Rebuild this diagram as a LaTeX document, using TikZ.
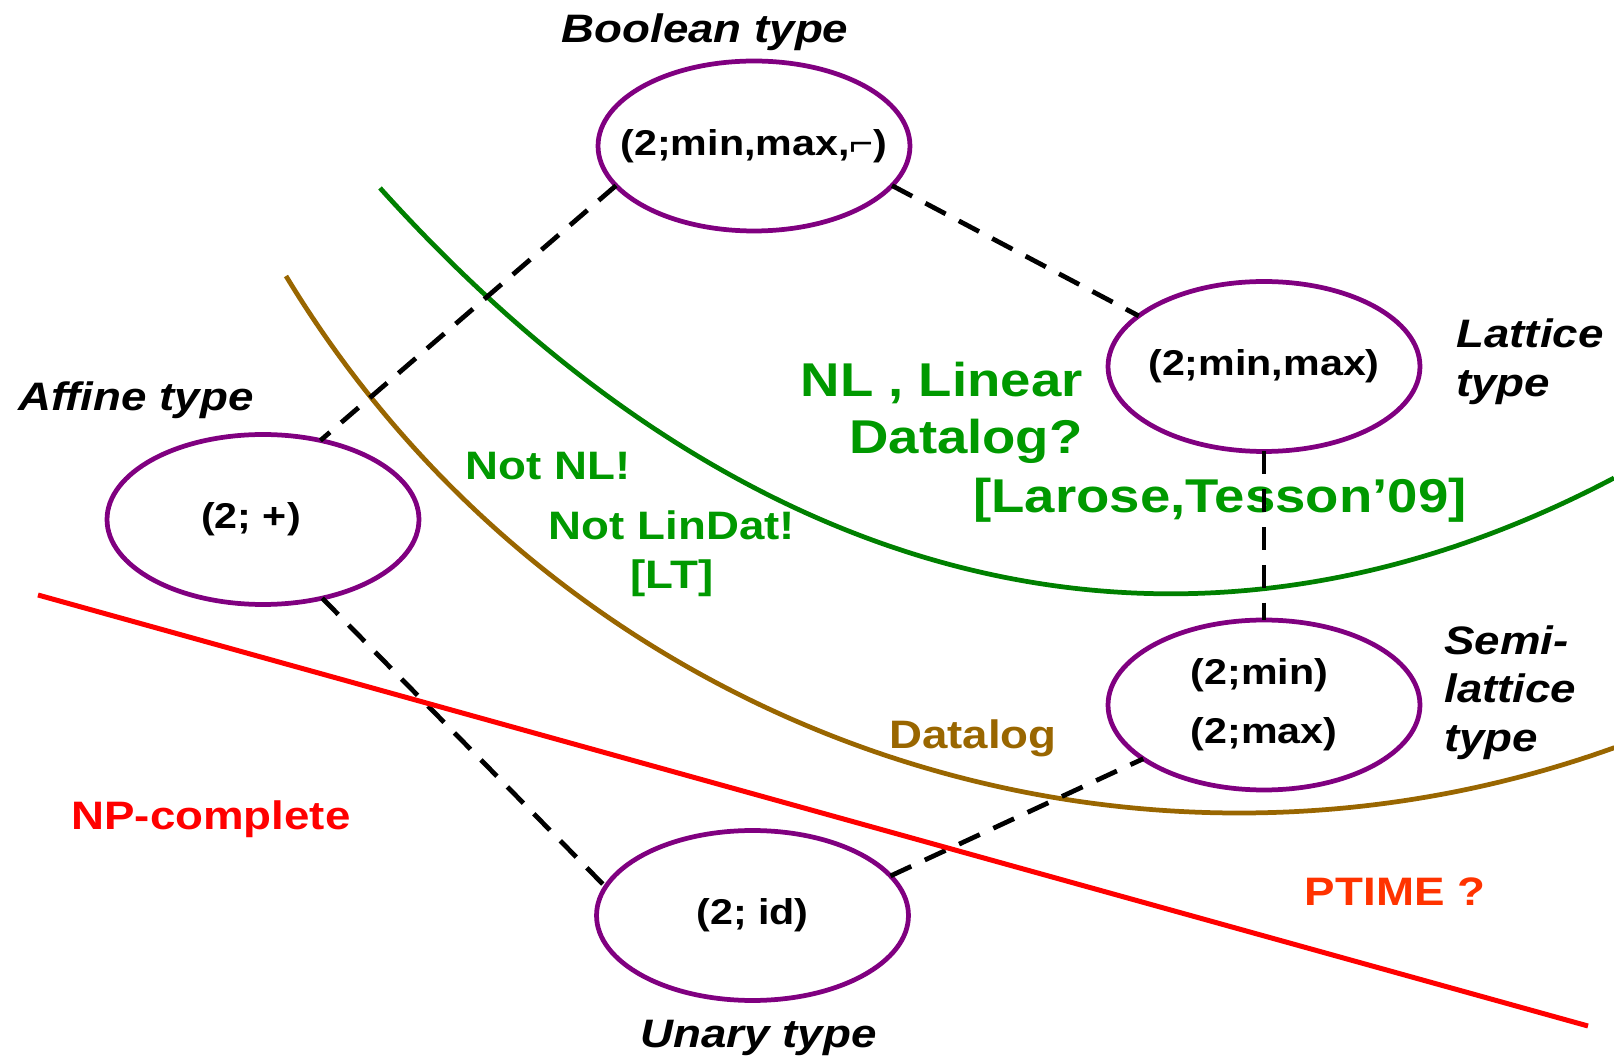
\documentclass[tikz,border=0pt]{standalone}
\usepackage{fontspec}
\setmainfont{Liberation Sans}[FakeStretch=1.15]
\usepackage{tikz}
\usetikzlibrary{shapes.geometric, positioning}
\definecolor{optype}{HTML}{800080}
\definecolor{nlgreen}{HTML}{008000}
\definecolor{nltext}{HTML}{009900}
\definecolor{dlbrown}{HTML}{996600}
\definecolor{ptime}{HTML}{FF3300}
\tikzset{clone/.style={ellipse, draw=optype, line width=0.095cm,
    minimum width=6.24cm, minimum height=3.4cm, inner sep=0pt, outer sep=0pt}}
\tikzset{cname/.style={font=\fontsize{20.4}{33.5}\selectfont\bfseries, inner sep=0pt, align=left}}
\tikzset{ctype/.style={font=\fontsize{22.6}{27.8}\selectfont\bfseries\itshape, inner sep=0pt, align=left}}
\tikzset{claim/.style={font=\fontsize{22.6}{27.8}\selectfont\bfseries, inner sep=0pt}}
\tikzset{bigclaim/.style={font=\fontsize{27}{32.6}\selectfont\bfseries, inner sep=0pt, text=nltext}}
\tikzset{link/.style={draw=black, line width=0.095cm, dash pattern=on 13pt off 8.5pt}}

\begin{document}
\begin{tikzpicture}[x=0.02cm, y=-0.02cm]
  \useasboundingbox (0,0) rectangle (1614,1060);
  % Borders
  \draw[nlgreen, line width=0.095cm] (380,188) .. controls (760,610) and (1200,696) .. (1614,478);
  \draw[dlbrown, line width=0.095cm] (286,276) arc[start angle=148.8, end angle=70.3, radius=1114];
  %Nodes
  \node[clone, label={[cname]center:(2;min,max,⌐)}] (bool) at (754,146) {};
  \node[clone, label={[cname]center:(2;min,max)}] (lat) at (1264,366.5) {};
  \node[clone, label={[cname]center:{(2;min)\\(2;max)}}] (semi) at (1264,705) {};
  \node[clone, label={[cname, xshift=-0.24cm]center:(2; +)}] (affine) at (263,519.5) {};
  \node[clone, label={[cname]center:(2; id)}] (unary) at (752.5,915.5) {};
  % Type names
  \node[ctype] (booltype) at (705,32) {Boolean type};
  \node[ctype] (affinetype) at (136,400) {Affine type};
  \node[ctype, below=0.39cm of unary, xshift=0.12cm] (unarytype) {Unary type};
  \node[ctype, right=0.72cm of lat, yshift=2.5pt] (lattype) {Lattice\\type};
  \node[ctype, right=0.48cm of semi, yshift=7pt] (semitype) {Semi-\\lattice\\type};
  % Complexity
  \node[bigclaim, align=right, anchor=east] (nlq) at (1083,413) {NL , Linear\\Datalog?};
  \node[bigclaim] (lt09) at (1220,500) {[Larose,Tesson’09]};
  \node[claim, text=nltext] (notnl) at (548,466) {Not NL!};
  \node[claim, text=nltext, align=center] (notlin) at (672,554) {Not LinDat!\\{}[LT]};
  \node[claim, text=dlbrown] (dlog) at (973,738) {Datalog};
  \node[claim, text=red] (npc) at (211,819) {NP-complete};
  \node[claim, text=ptime] (ptime) at (1395,892) {PTIME ?};
  % Edges
  \begin{scope}[every edge/.style={link}]
    \draw (bool.196) edge (affine.54);
    \draw (bool.-16) edge (lat.158);
    \draw (lat) edge (semi);
    \draw (affine.-53) edge (unary.169);
    \draw (unary.16) edge (semi.204);
  \end{scope}
  \draw[red, line width=0.1cm] (38,595) -- (1588,1026);
\end{tikzpicture}
\end{document}
